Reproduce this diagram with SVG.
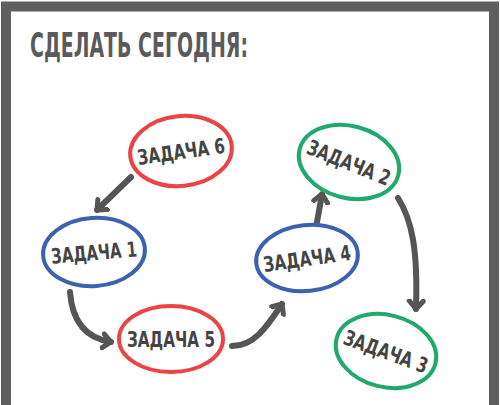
<svg xmlns="http://www.w3.org/2000/svg" width="500" height="405" viewBox="0 0 500 405">
<defs>
<style>
.frame{fill:none;stroke:#5f5f5f;stroke-width:10;stroke-linejoin:miter}
.title{font-family:"DejaVu Sans Condensed","DejaVu Sans",sans-serif;font-weight:bold;font-size:33px;fill:#5a5a5a}
.lbl{font-family:"DejaVu Sans Condensed","DejaVu Sans",sans-serif;font-weight:bold;font-size:21px;fill:#444}
.red{fill:#fff;stroke:#ec4346;stroke-width:4}
.green{fill:#fff;stroke:#1faa6b;stroke-width:4}
.blue{fill:#fff;stroke:#3a62b0;stroke-width:4}
.conn{fill:none;stroke:#555;stroke-width:6;stroke-linecap:round;stroke-linejoin:round}
</style>
<marker id="ah" viewBox="-10 -10 20 20" markerWidth="20" markerHeight="20" refX="0" refY="0" orient="auto" markerUnits="userSpaceOnUse">
<path d="M-8,-7 L0,0 L-8,7" fill="none" stroke="#555" stroke-width="5" stroke-linecap="round" stroke-linejoin="round"/>
</marker>
</defs>
<rect width="500" height="405" fill="#fff"/>
<path class="frame" d="M6,405 L6,6.5 L494,6.5 L494,405"/>
<text class="title" x="30" y="57" textLength="218" lengthAdjust="spacingAndGlyphs">СДЕЛАТЬ СЕГОДНЯ:</text>
<g id="connectors">
<path class="conn" d="M131,177 L97,210" marker-end="url(#ah)"/>
<path class="conn" d="M70,292 C72,320 85,338 111,342" marker-end="url(#ah)"/>
<path class="conn" d="M232,346 C255,346 268,325 282,304" marker-end="url(#ah)"/>
<path class="conn" d="M317,222 L322,194" marker-end="url(#ah)"/>
<path class="conn" d="M398,198 C412,220 418,250 416,309" marker-end="url(#ah)"/>
</g>
<g id="task6">
<ellipse class="red" cx="181" cy="151" rx="51" ry="35" transform="rotate(-6 181 151)"/>
<text class="lbl" x="181" y="159" text-anchor="middle" textLength="88" lengthAdjust="spacingAndGlyphs" transform="rotate(-8 181 151)">ЗАДАЧА 6</text>
</g>
<g id="task2">
<ellipse class="green" cx="349" cy="162" rx="51" ry="36" transform="rotate(15 349 162)"/>
<text class="lbl" x="349" y="170" text-anchor="middle" textLength="88" lengthAdjust="spacingAndGlyphs" transform="rotate(22 349 162)">ЗАДАЧА 2</text>
</g>
<g id="task1">
<ellipse class="blue" cx="94" cy="252" rx="51" ry="34" transform="rotate(-4 94 252)"/>
<text class="lbl" x="94" y="260" text-anchor="middle" textLength="86" lengthAdjust="spacingAndGlyphs" transform="rotate(-5 94 252)">ЗАДАЧА 1</text>
</g>
<g id="task4">
<ellipse class="blue" cx="307" cy="258" rx="51" ry="33" transform="rotate(-6 307 258)"/>
<text class="lbl" x="307" y="266" text-anchor="middle" textLength="88" lengthAdjust="spacingAndGlyphs" transform="rotate(-8 307 258)">ЗАДАЧА 4</text>
</g>
<g id="task5">
<ellipse class="red" cx="171" cy="339" rx="52" ry="33"/>
<text class="lbl" x="171" y="347" text-anchor="middle" textLength="88" lengthAdjust="spacingAndGlyphs">ЗАДАЧА 5</text>
</g>
<g id="task3">
<ellipse class="green" cx="386" cy="351" rx="51" ry="36" transform="rotate(14 386 351)"/>
<text class="lbl" x="386" y="359" text-anchor="middle" textLength="88" lengthAdjust="spacingAndGlyphs" transform="rotate(20 386 351)">ЗАДАЧА 3</text>
</g>
</svg>
